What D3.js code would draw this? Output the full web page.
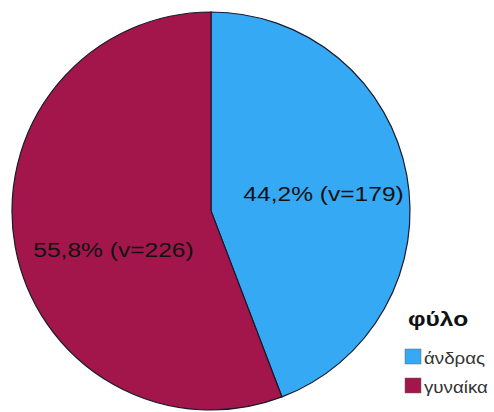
<!DOCTYPE html>
<html>
<head>
<meta charset="utf-8">
<script src="https://cdn.jsdelivr.net/npm/d3@7"></script>
<style>
  html, body { margin: 0; padding: 0; background: #fff; }
  svg { display: block; }
</style>
</head>
<body>
<svg id="chart" width="494" height="412"></svg>
<script>
// Gender breakdown
const categories = ["άνδρας", "γυναίκα"];
const counts = [179, 226];
const percents = ["44,2%", "55,8%"];
const colors = ["#36a9f4", "#a3164b"];
const legendTitle = "φύλο";

const svg = d3.select("#chart");
const cx = 211, cy = 211, R = 199;
const FONT = "Liberation Sans, Arial, sans-serif";
const STRETCH = 1.17; // wide-set lettering

const pie = d3.pie().sort(null).value(d => d.value);
const data = categories.map((c, i) => ({ name: c, value: counts[i], pct: percents[i], color: colors[i] }));
const arcs = pie(data);

const arc = d3.arc().innerRadius(0).outerRadius(R);
const g = svg.append("g").attr("transform", `translate(${cx},${cy})`);

g.selectAll("path.slice")
  .data(arcs)
  .join("path")
  .attr("class", "slice")
  .attr("d", arc)
  .attr("fill", d => d.data.color)
  .attr("stroke", "#1a1a2a")
  .attr("stroke-width", 1.2);

// slice labels
const labelArc = d3.arc().innerRadius(R * 0.57).outerRadius(R * 0.57);
const nudges = [[1, 3], [14, 18]];
g.selectAll("text.lbl")
  .data(arcs)
  .join("text")
  .attr("class", "lbl")
  .attr("transform", (d, i) => {
    const [x, y] = labelArc.centroid(d);
    return `translate(${x + nudges[i][0]},${y + nudges[i][1]}) scale(${STRETCH},1)`;
  })
  .attr("text-anchor", "middle")
  .attr("dy", "0.35em")
  .attr("font-family", FONT)
  .attr("font-size", 21)
  .attr("fill", "#111")
  .text(d => `${d.data.pct} (v=${d.data.value})`);

// legend
const lg = svg.append("g");
lg.append("text")
  .attr("transform", `translate(408,326) scale(${STRETCH},1)`)
  .attr("font-family", FONT)
  .attr("font-size", 21)
  .attr("font-weight", "bold")
  .attr("fill", "#111")
  .text(legendTitle);

const items = lg.selectAll("g.item")
  .data(data)
  .join("g")
  .attr("class", "item")
  .attr("transform", (d, i) => `translate(405,${349 + i * 29})`);
items.append("rect")
  .attr("width", 16).attr("height", 15)
  .attr("fill", d => d.color)
  .attr("stroke", "#666").attr("stroke-width", 0.5);
items.append("text")
  .attr("transform", `translate(19,15) scale(${STRETCH},1)`)
  .attr("font-family", FONT)
  .attr("font-size", 16)
  .attr("fill", "#333")
  .text(d => d.name);
</script>
</body>
</html>
